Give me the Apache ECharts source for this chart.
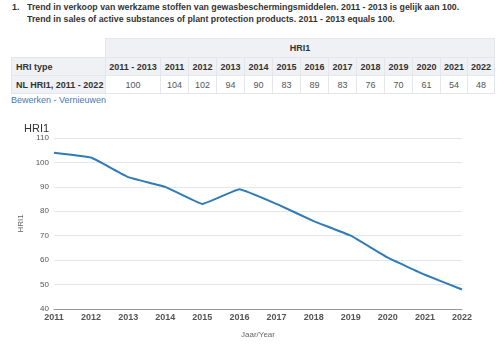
<!DOCTYPE html>
<html><head><meta charset="utf-8">
<script src="https://cdn.jsdelivr.net/npm/echarts@6/dist/echarts.min.js"></script>
<style>
html,body{margin:0;padding:0;background:#fff;width:504px;height:344px;overflow:hidden;font-family:"Liberation Sans",Arial,sans-serif;}
#title{position:absolute;left:12px;top:1px;font-size:9px;font-weight:bold;color:#333;line-height:12px;}
#title .n{position:absolute;left:0;top:0;}
#title .t{position:absolute;left:15px;top:0;white-space:nowrap;transform:scaleX(0.975);transform-origin:0 0;}
table{position:absolute;left:11px;top:38px;border-collapse:collapse;font-size:9px;color:#333;}
td{border:1px solid #e3e6ea;padding:0;text-align:center;height:17px;white-space:nowrap;}
td.h{background:#f0f1f4;font-weight:bold;}
td.e{border:none;background:#fff;}
td.v{color:#555;}
#links{position:absolute;left:11px;top:95px;font-size:9px;color:#4a78b0;}
#chart{position:absolute;left:0;top:110px;width:504px;height:234px;}
</style></head><body>
<div id="title"><span class="n">1.</span><span class="t">Trend in verkoop van werkzame stoffen van gewasbeschermingsmiddelen. 2011 - 2013 is gelijk aan 100.<br>Trend in sales of active substances of plant protection products. 2011 - 2013 equals 100.</span></div>
<table id="tbl"></table>
<div id="links">Bewerken - Vernieuwen</div>
<div id="chart"></div>
<script>
var tableColumns = ["2011 - 2013","2011","2012","2013","2014","2015","2016","2017","2018","2019","2020","2021","2022"];
var tableValues = [100,104,102,94,90,83,89,83,76,70,61,54,48];
var years = ["2011","2012","2013","2014","2015","2016","2017","2018","2019","2020","2021","2022"];
var hri1 = [104,102,94,90,83,89,83,76,70,61,54,48];
var yTicks = [40,50,60,70,80,90,100,110];

(function(){
  var widths=[94,55,28,28,28,28,28,28,28,28,28,28,27,27];
  var t=document.getElementById('tbl');
  var cg='<colgroup>'+widths.map(function(w){return '<col style="width:'+w+'px">';}).join('')+'</colgroup>';
  var r1='<tr><td class="e" style="height:18px"></td><td class="h" colspan="'+tableColumns.length+'" style="height:18px">HRI1</td></tr>';
  var r2='<tr><td class="h" style="text-align:left;padding-left:4px">HRI type</td>'+tableColumns.map(function(c){return '<td class="h">'+c+'</td>';}).join('')+'</tr>';
  var r3='<tr><td class="h" style="text-align:left;padding-left:4px">NL HRI1, 2011 - 2022</td>'+tableValues.map(function(v){return '<td class="v">'+v+'</td>';}).join('')+'</tr>';
  t.style.tableLayout='fixed';
  t.style.width=widths.reduce(function(a,b){return a+b;},0)+'px';
  t.innerHTML=cg+r1+r2+r3;
})();

var chart=echarts.init(document.getElementById('chart'));
chart.setOption({
  animation:false,
  title:{text:'HRI1',left:19,top:8,textStyle:{fontSize:11,fontWeight:'normal',color:'#333',fontFamily:'Liberation Sans'}},
  grid:{left:54,right:42,top:28,bottom:34},
  xAxis:{type:'category',data:years,boundaryGap:false,
    name:'Jaar/Year',nameLocation:'middle',nameGap:22,
    nameTextStyle:{fontSize:8,color:'#666',fontFamily:'Liberation Sans'},
    axisLine:{lineStyle:{color:'#999'}},axisTick:{show:false},
    axisLabel:{fontSize:9,color:'#555',margin:4,fontWeight:'bold',fontFamily:'Liberation Sans'}},
  yAxis:{type:'value',min:yTicks[0],max:yTicks[yTicks.length-1],interval:10,
    name:'HRI1',nameLocation:'middle',nameGap:29,
    nameTextStyle:{fontSize:8,color:'#666',fontFamily:'Liberation Sans'},
    axisLine:{show:false},axisTick:{show:false},
    splitLine:{lineStyle:{color:'#e1e6ed',width:1}},
    axisLabel:{fontSize:8,color:'#555',margin:5,fontFamily:'Liberation Sans'}},
  series:[{type:'line',data:hri1,smooth:0.08,symbol:'none',
    lineStyle:{color:'#2f7bb9',width:2}}]
});
</script>
</body></html>
